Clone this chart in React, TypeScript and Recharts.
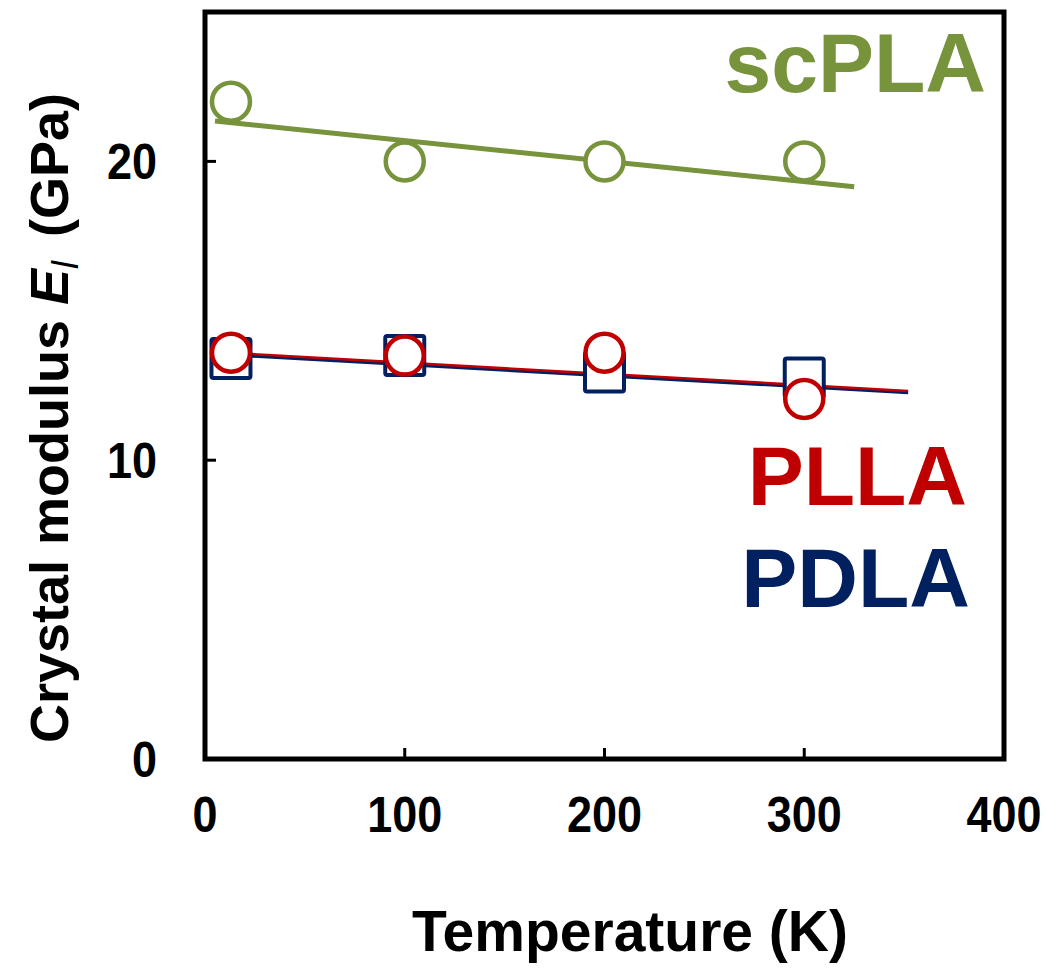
import { ComposedChart, Scatter, XAxis, YAxis, ReferenceArea } from "recharts";

// temperaturas medidas (K)
const temps = [13, 100, 200, 300];
// modulo cristalino (GPa)
const scPLA = [22.0, 20.0, 20.0, 20.0];
const PLLA = [13.6, 13.5, 13.6, 12.05];
const PDLA = [13.4, 13.5, 12.95, 12.75];

// rectas de ajuste (extremos)
const scPLAfitT = [5, 325];
const scPLAfit = [21.35, 19.15];
const fitT = [5, 352];
const PLLAfit = [13.62, 12.32];
const PDLAfit = [13.55, 12.26];

const xTicks = [0, 100, 200, 300, 400];
const yTicks = [0, 10, 20];

const GREEN = "#77933C";
const RED = "#C00000";
const NAVY = "#002060";
const FONT = "'Liberation Sans', Arial, sans-serif";

const toPts = (xs: number[], ys: number[]) => xs.map((x, i) => ({ x, y: ys[i] }));

const circle = (color: string) => (p: any) =>
    <circle cx={p.cx} cy={p.cy} r={19} fill="#fff" stroke={color} strokeWidth={4.5} />;

const square = (color: string) => (p: any) =>
    <rect x={p.cx - 19.5} y={p.cy - 19.5} width={39} height={39} rx={2} fill="#fff" stroke={color} strokeWidth={4} />;

const noShape = () => <g />;

// las etiquetas de la figura original estan algo estiradas en vertical
function TickText(props: { x: number; y: number; anchor: string; v: number }) {
    return (
        <g transform={`translate(${props.x}, ${props.y}) scale(1, 1.1)`}>
            <text x={0} y={0} textAnchor={props.anchor as any} fontFamily={FONT} fontWeight="bold" fontSize={45} fill="#000">{props.v}</text>
        </g>
    );
}

function XTick(p: any) {
    const v = p.payload.value;
    return (
        <g>
            {v > 0 && v < 400 && <line x1={p.x} y1={p.y} x2={p.x} y2={p.y - 11} stroke="#000" strokeWidth={3} />}
            <TickText x={p.x} y={p.y + 73} anchor="middle" v={v} />
        </g>
    );
}

function YTick(p: any) {
    const v = p.payload.value;
    return (
        <g>
            {v > 0 && <line x1={p.x} y1={p.y} x2={p.x + 11} y2={p.y} stroke="#000" strokeWidth={3} />}
            <TickText x={p.x - 48} y={p.y + 18} anchor="end" v={v} />
        </g>
    );
}

export default function App() {
    return (
        <div style={{ position: "absolute", left: 0, top: 0, width: 1046, height: 970, background: "#fff" }}>
            <ComposedChart width={1046} height={970} margin={{ top: 12, right: 42, bottom: 0, left: 0 }}>
                <XAxis type="number" dataKey="x" domain={[0, 400]} ticks={xTicks} height={211}
                    axisLine={false} tickLine={false} tickSize={0} tickMargin={0} tick={(p: any) => <XTick {...p} />}
                    label={{
                        content: () => (
                            <text x={630} y={951} textAnchor="middle" fontFamily={FONT} fontWeight="bold" fontSize={57} fill="#000">
                                Temperature (K)
                            </text>
                        )
                    }} />
                <YAxis type="number" dataKey="y" domain={[0, 25]} ticks={yTicks} width={205}
                    axisLine={false} tickLine={false} tickSize={0} tickMargin={0} tick={(p: any) => <YTick {...p} />}
                    label={{
                        content: () => (
                            <text x={68} y={418} transform="rotate(-90, 68, 418)" textAnchor="middle" fontFamily={FONT} fontWeight="bold" fontSize={54} fill="#000">
                                Crystal modulus <tspan fontStyle="italic">E</tspan>
                                <tspan fontStyle="italic" fontWeight="normal" fontSize={36} dy={10}>l</tspan>
                                <tspan dy={-10} dx={24}>(GPa)</tspan>
                            </text>
                        )
                    }} />
                <ReferenceArea x1={0} x2={400} y1={0} y2={25} fill="none" stroke="#000" strokeWidth={5} />

                {/* rectas de ajuste */}
                <Scatter data={toPts(scPLAfitT, scPLAfit)} line={{ stroke: GREEN, strokeWidth: 5 }} shape={noShape} isAnimationActive={false} />
                <Scatter data={toPts(fitT, PDLAfit)} line={{ stroke: NAVY, strokeWidth: 3 }} shape={noShape} isAnimationActive={false} />
                <Scatter data={toPts(fitT, PLLAfit)} line={{ stroke: RED, strokeWidth: 2.5 }} shape={noShape} isAnimationActive={false} />

                {/* puntos */}
                <Scatter data={toPts(temps, scPLA)} shape={circle(GREEN)} isAnimationActive={false} />
                <Scatter data={toPts(temps, PDLA)} shape={square(NAVY)} isAnimationActive={false} />
                <Scatter data={toPts(temps, PLLA)} shape={circle(RED)} isAnimationActive={false} />
            </ComposedChart>

            <svg width={1046} height={970} style={{ position: "absolute", left: 0, top: 0, pointerEvents: "none" }}>
                <text x={986} y={92} textAnchor="end" fontFamily={FONT} fontWeight="bold" fontSize={84} fill={GREEN}>scPLA</text>
                <text x={967} y={505} textAnchor="end" fontFamily={FONT} fontWeight="bold" fontSize={84} fill={RED}>PLLA</text>
                <text x={970} y={607} textAnchor="end" fontFamily={FONT} fontWeight="bold" fontSize={84} fill={NAVY}>PDLA</text>
            </svg>
        </div>
    );
}
